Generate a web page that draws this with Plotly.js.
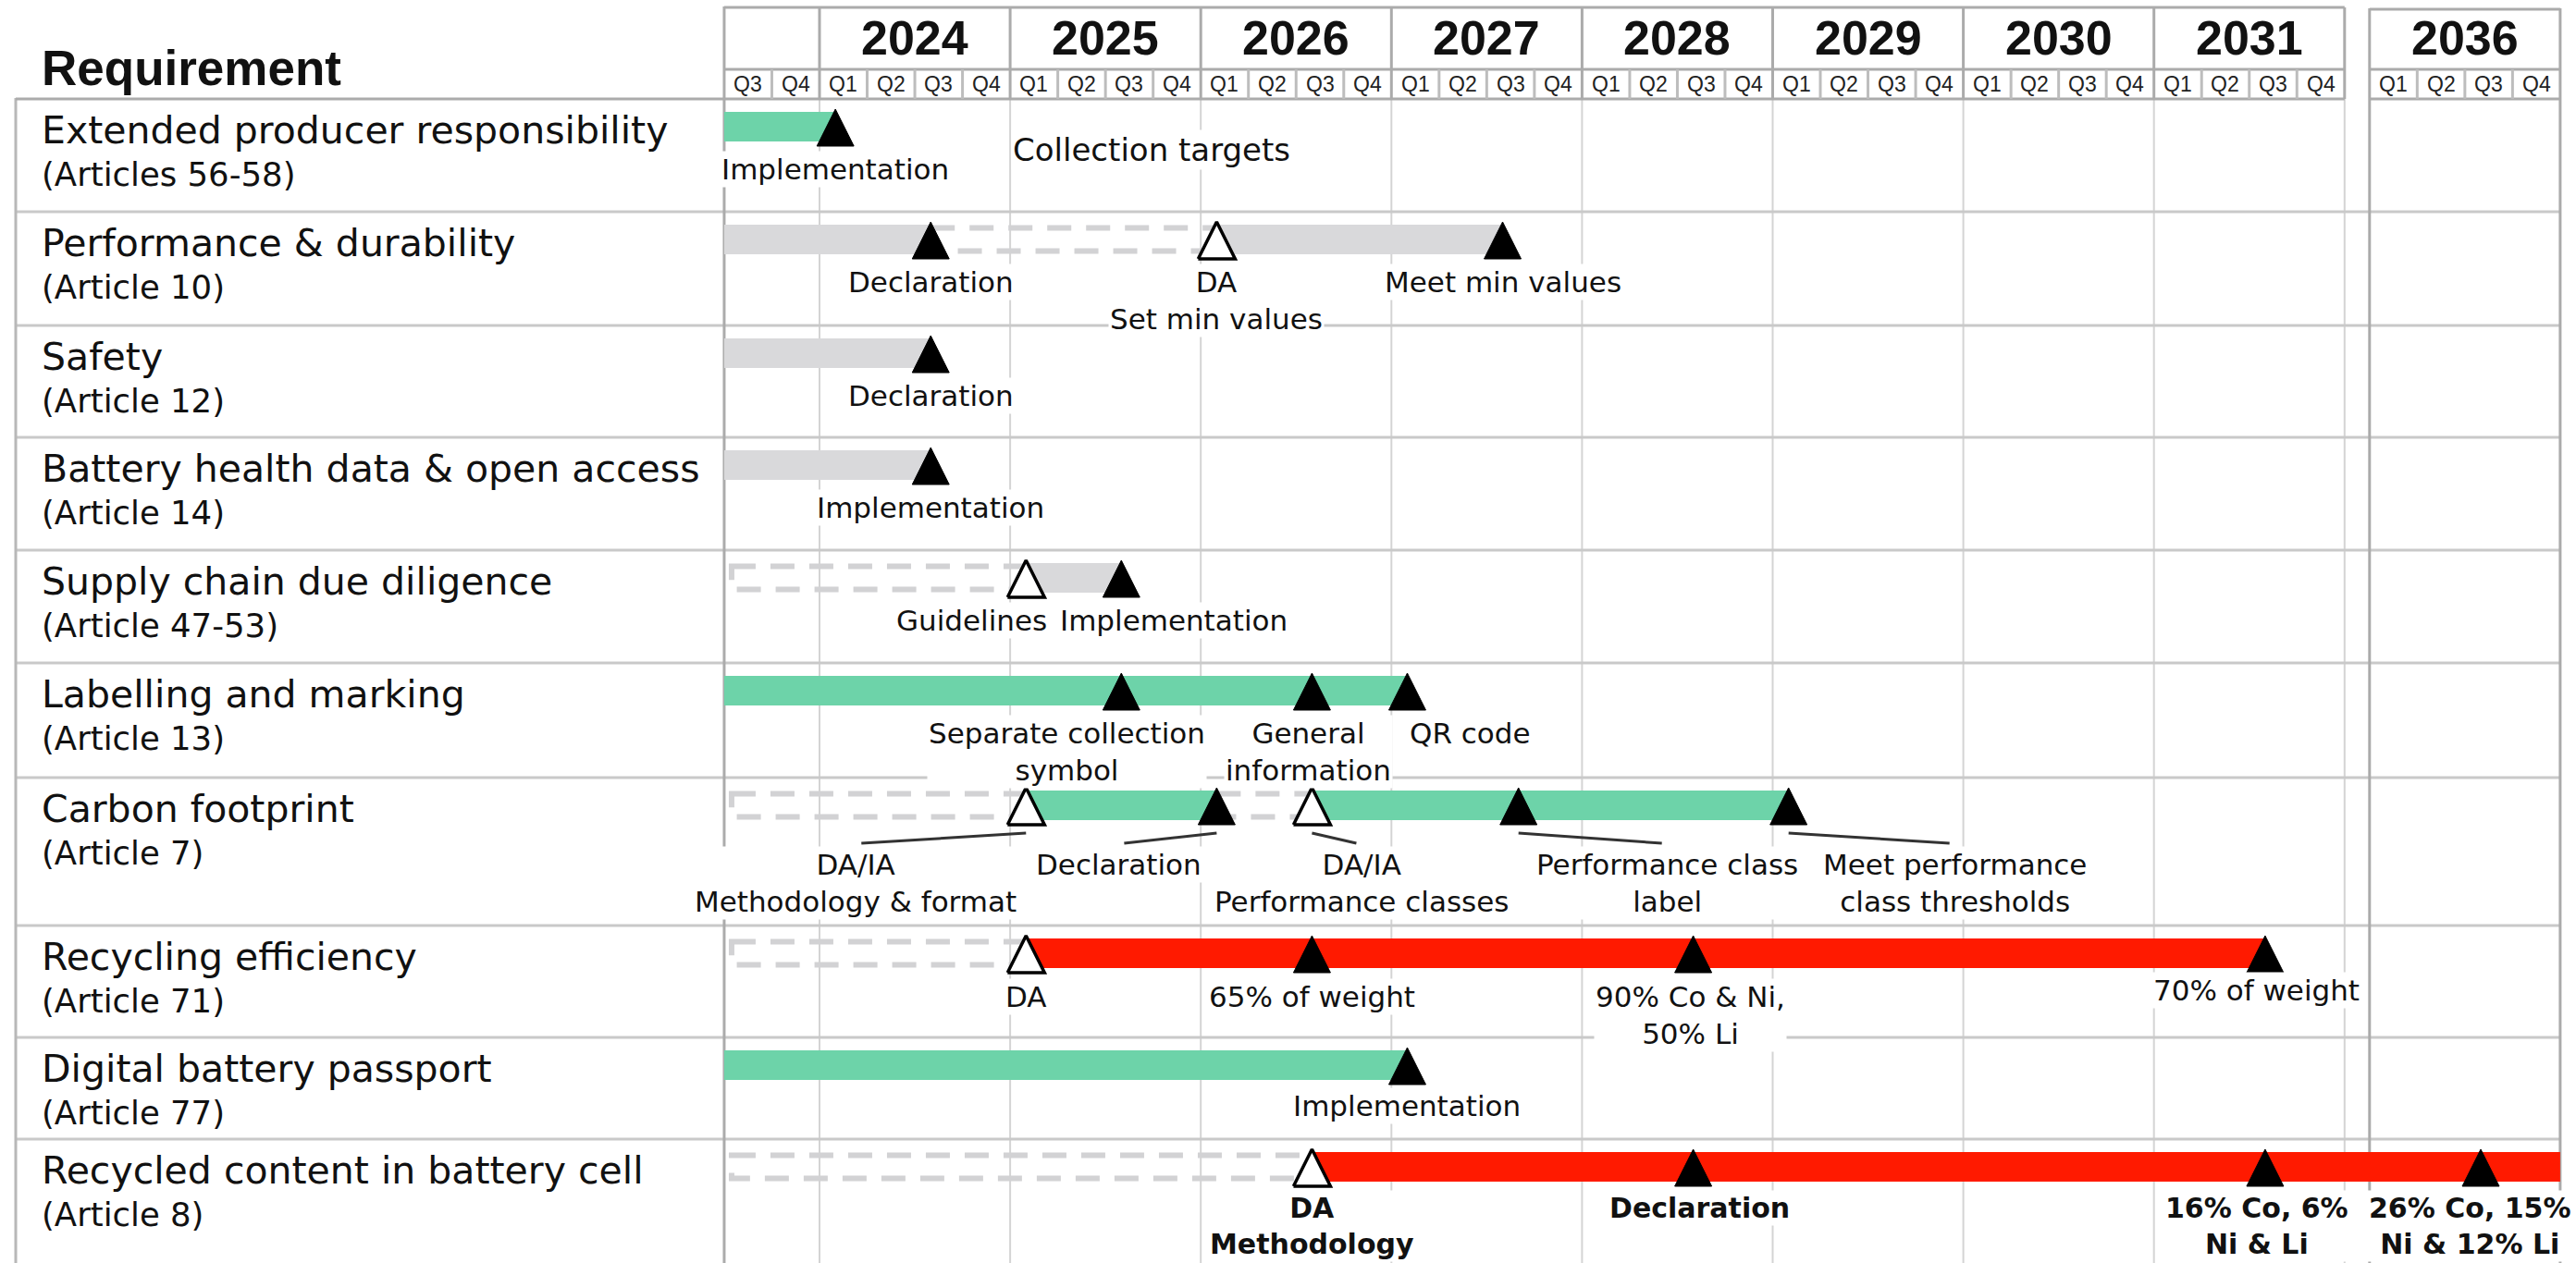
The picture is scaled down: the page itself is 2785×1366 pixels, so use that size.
<!DOCTYPE html>
<html>
<head>
<meta charset="utf-8">
<script src="https://cdn.plot.ly/plotly-3.0.1.min.js"></script>
<style>
html,body{margin:0;padding:0;background:#ffffff;}
#chart{width:2785px;height:1366px;}
</style>
</head>
<body>
<div id="chart"></div>
<script>
// ================= DATA =================
const requirements = [
  'Extended producer responsibility',
  'Performance & durability',
  'Safety',
  'Battery health data & open access',
  'Supply chain due diligence',
  'Labelling and marking',
  'Carbon footprint',
  'Recycling efficiency',
  'Digital battery passport',
  'Recycled content in battery cell'
];
const articles = [
  '(Articles 56-58)', '(Article 10)', '(Article 12)', '(Article 14)', '(Article 47-53)',
  '(Article 13)', '(Article 7)', '(Article 71)', '(Article 77)', '(Article 8)'
];
const headerTitle = 'Requirement';
const yearLabels = [2024, 2025, 2026, 2027, 2028, 2029, 2030, 2031, 2036];
const quarterLabels = ['Q1', 'Q2', 'Q3', 'Q4'];
const startPeriod = '2023-07';   // first visible quarter: 2023 Q3
const endPeriod = '2037-01';     // end of the 2036 block

// Timeline segments (row index, start, end, kind)
const segRow   = [0, 1, 1, 1, 2, 3, 4, 4, 5, 6, 6, 6, 6, 7, 7, 8, 9, 9];
const segStart = ['2023-07','2023-07','2024-08','2026-02','2023-07','2023-07','2023-07','2025-02','2023-07',
                  '2023-07','2025-02','2026-02','2026-08','2023-07','2025-02','2023-07','2023-07','2026-08'];
const segEnd   = ['2024-02','2024-08','2026-02','2027-08','2024-08','2024-08','2025-02','2025-08','2027-02',
                  '2025-02','2026-02','2026-08','2029-02','2025-02','2031-08','2027-02','2026-08','2037-01'];
const segKind  = ['green','grey','dashed','grey','grey','grey','dashed','grey','green',
                  'dashed','green','dashed','green','dashed','red','green','dashed','red'];

// Milestones (row index, date, hollow?, label, bold?)
const msRow    = [0, 1, 1, 1, 2, 3, 4, 4, 5, 5, 5, 6, 6, 6, 6, 6, 7, 7, 7, 7, 8, 9, 9, 9, 9];
const msDate   = ['2024-02','2024-08','2026-02','2027-08','2024-08','2024-08','2025-02','2025-08',
                  '2025-08','2026-08','2027-02','2025-02','2026-02','2026-08','2027-09','2029-02',
                  '2025-02','2026-08','2028-08','2031-08','2027-02','2026-08','2028-08','2031-08','2036-08'];
const msHollow = [false,false,true,false,false,false,true,false,
                  false,false,false,true,false,true,false,false,
                  true,false,false,false,false,true,false,false,false];
const msLabel  = ['Implementation','Declaration','DA<br>Set min values','Meet min values','Declaration',
                  'Implementation','Guidelines','Implementation',
                  'Separate collection<br>symbol','General<br>information','QR code',
                  'DA/IA<br>Methodology & format','Declaration','DA/IA<br>Performance classes',
                  'Performance class<br>label','Meet performance<br>class thresholds',
                  'DA','65% of weight','90% Co & Ni,<br>50% Li','70% of weight','Implementation',
                  'DA<br>Methodology','Declaration','16% Co, 6%<br>Ni & Li','26% Co, 15%<br>Ni & 12% Li'];
const msBold   = [false,false,false,false,false,false,false,false,false,false,false,false,false,false,
                  false,false,false,false,false,false,false,true,true,true,true];

// Free notes without a milestone marker
const noteRow  = [0];
const noteText = ['Collection targets'];

// ================= LAYOUT / STYLE =================
const W = 2785, H = 1366;
const PXY = 206.1;                 // pixels per year
const X0 = 2024 - 886 / PXY;       // axis value at left edge
const X1 = 2024 + (W - 886) / PXY; // axis value at right edge
const BREAK_FROM = 2032, BREAK_TO = 2036, GAP = 27 / PXY;
function axisX(t) { return t < BREAK_TO ? t : t - BREAK_TO + BREAK_FROM + GAP; }
function toYear(s) { const p = s.split('-').map(Number); return p[0] + (p[1] - 1) / 12; }
function X(s) { return axisX(toYear(s)); }

const rowTop = [107, 229, 352, 473, 595, 717, 841, 1001, 1122, 1232];
const labelBase = [86, 86, 86, 86, 86, 86, 104, 87, 84, 84];
const labelDx = [0,0,0,0,0,0,-59,57,-59,-4,68,-184,-106,54,161,180,0,0,-3,-9,0,0,7,-9,-12];
const labelDy = [0,0,0,0,0,0,0,0,0,0,0,0,0,0,0,0,0,0,0,-7,0,0,0,0,0];
const leaderRows = [6];
const noteX = [2025.74], noteBase = [66], noteSize = 34;

const colors = {green: '#6dd3a9', grey: '#d9d9db', red: '#ff1a00', dash: '#d2d2d4'};
const bodyFont = 'DejaVu Sans, Verdana, sans-serif';
const headFont = 'Liberation Sans, Arial, Helvetica, sans-serif';
const textColor = '#111111';
const dark = '#ababab', light = '#d4d4d4', rowLine = '#c9c9c9';

const BAR_OFF = 30, BAR_W = 32, TRI_TOP = 11, TRI_BOT = 51, TRI_HW = 20 / PXY;
const chartL = toYear(startPeriod);
const blockL = axisX(2036), blockR = X(endPeriod);

// ================= TRACES =================
const traces = [];
['green', 'grey', 'red'].forEach(kind => {
  const idx = segKind.map((k, i) => k === kind ? i : -1).filter(i => i >= 0);
  traces.push({
    type: 'bar', orientation: 'h',
    y: idx.map(i => rowTop[segRow[i]] + BAR_OFF),
    base: idx.map(i => X(segStart[i])),
    x: idx.map(i => X(segEnd[i]) - X(segStart[i])),
    width: BAR_W,
    marker: {color: colors[kind], line: {width: 0}},
    hoverinfo: 'skip', showlegend: false
  });
});

function triPath(filterHollow) {
  const xs = [], ys = [];
  msDate.forEach((d, i) => {
    if (msHollow[i] !== filterHollow) return;
    const x = X(d), t = rowTop[msRow[i]];
    xs.push(x - TRI_HW, x + TRI_HW, x, x - TRI_HW, null);
    ys.push(t + TRI_BOT, t + TRI_BOT, t + TRI_TOP, t + TRI_BOT, null);
  });
  return {xs, ys};
}
const filled = triPath(false), hollow = triPath(true);
traces.push({
  type: 'scatter', mode: 'lines', x: filled.xs, y: filled.ys, fill: 'toself',
  fillcolor: '#000000', line: {color: '#000000', width: 1},
  hoverinfo: 'skip', showlegend: false, connectgaps: false
});
traces.push({
  type: 'scatter', mode: 'lines', x: hollow.xs, y: hollow.ys, fill: 'toself',
  fillcolor: '#ffffff', line: {color: '#000000', width: 3.5},
  hoverinfo: 'skip', showlegend: false, connectgaps: false
});

// ================= SHAPES =================
const shapes = [];
function vline(x, y0, y1, color, width, layer) {
  shapes.push({type: 'line', xref: 'x', yref: 'y', x0: x, x1: x, y0: y0, y1: y1,
    line: {color: color, width: width}, layer: layer || 'below'});
}
function hline(y, x0, x1, color, width, layer) {
  shapes.push({type: 'line', xref: 'x', yref: 'y', x0: x0, x1: x1, y0: y, y1: y,
    line: {color: color, width: width}, layer: layer || 'below'});
}
const leftEdgeX = X0 + 17 / PXY;
const mainYears = yearLabels.filter(y => y < BREAK_TO);
const mainEnd = mainYears[mainYears.length - 1] + 1;

// body grid: year lines
mainYears.forEach(y => vline(y, 107, H, light, 2));
vline(mainEnd, 107, H, light, 2);
// row separators
rowTop.slice(1).forEach(t => hline(t, leftEdgeX, blockR, rowLine, 3));
// outer left border, chart left border, 2036 block borders
vline(leftEdgeX, 106, H, '#b8b8b8', 3);
vline(chartL, 7, H, dark, 3);
vline(blockL, 9, H, dark, 3);
vline(blockR, 9, H, dark, 3);
// header bottom line
hline(107, leftEdgeX, mainEnd, dark, 3);
hline(107, blockL, blockR, dark, 3);
// header: top line and year/quarter row separator
hline(8, chartL, mainEnd, dark, 3);
hline(10, blockL, blockR, dark, 3);
hline(75, chartL, mainEnd, dark, 3);
hline(75, blockL, blockR, dark, 3);
// header: year dividers
mainYears.forEach(y => vline(y, 8, 107, dark, 3));
vline(mainEnd, 8, 107, dark, 3);
// header: quarter dividers
for (let q = chartL + 0.25; q < mainEnd; q += 0.25) {
  if (Math.abs(q - Math.round(q)) > 1e-6) vline(q, 75, 107, '#bdbdbd', 3);
}
for (let q = 1; q < 4; q++) vline(blockL + q * 0.25, 75, 107, '#bdbdbd', 3);

// dashed (planned) outlines
segKind.forEach((k, i) => {
  if (k !== 'dashed') return;
  const c = rowTop[segRow[i]] + BAR_OFF;
  const x0 = X(segStart[i]) + (toYear(segStart[i]) === chartL ? 8 / PXY : 0);
  shapes.push({type: 'rect', xref: 'x', yref: 'y', x0: x0, x1: X(segEnd[i]),
    y0: c - 12.5, y1: c + 12.5, fillcolor: 'rgba(0,0,0,0)',
    line: {color: colors.dash, width: 6, dash: '26px,16px'}, layer: 'below'});
});

// leader lines
msDate.forEach((d, i) => {
  if (leaderRows.indexOf(msRow[i]) < 0) return;
  const mx = X(d), lx = mx + labelDx[i] / PXY, t = rowTop[msRow[i]];
  const sign = labelDx[i] >= 0 ? 1 : -1;
  shapes.push({type: 'line', xref: 'x', yref: 'y', x0: mx, x1: lx - sign * 6 / PXY,
    y0: t + 60, y1: t + 71, line: {color: '#333333', width: 3}, layer: 'above'});
});

// ================= ANNOTATIONS =================
const annotations = [];
// header title
annotations.push({xref: 'paper', yref: 'y', x: 43 / W, y: 42, xanchor: 'left', yanchor: 'top',
  text: '<b>' + headerTitle + '</b>', showarrow: false, borderpad: 1,
  font: {family: headFont, size: 53, color: textColor}});
// years
yearLabels.forEach(y => {
  annotations.push({xref: 'x', yref: 'y', x: axisX(y + 0.5), y: 10, xanchor: 'center', yanchor: 'top',
    text: '<b>' + y + '</b>', showarrow: false, borderpad: 1,
    font: {family: headFont, size: 52, color: textColor}});
});
// quarters
function qLabel(x, q) {
  annotations.push({xref: 'x', yref: 'y', x: x, y: 76, xanchor: 'center', yanchor: 'top',
    text: q, showarrow: false, borderpad: 1, font: {family: headFont, size: 23, color: '#222222'}});
}
qLabel(chartL + 0.125, quarterLabels[2]);
qLabel(chartL + 0.375, quarterLabels[3]);
yearLabels.forEach(y => quarterLabels.forEach((q, k) => qLabel(axisX(y) + 0.125 + k * 0.25, q)));
// requirement labels
requirements.forEach((r, i) => {
  annotations.push({xref: 'paper', yref: 'y', x: 43 / W, y: rowTop[i] + 8, xanchor: 'left', yanchor: 'top',
    text: r, showarrow: false, borderpad: 1, font: {family: bodyFont, size: 41, color: textColor}});
  annotations.push({xref: 'paper', yref: 'y', x: 43 / W, y: rowTop[i] + 59, xanchor: 'left', yanchor: 'top',
    text: articles[i], showarrow: false, borderpad: 1, font: {family: bodyFont, size: 35.5, color: textColor}});
});
// milestone labels
msLabel.forEach((txt, i) => {
  const fs = msBold[i] ? 30 : 31;
  annotations.push({xref: 'x', yref: 'y',
    x: X(msDate[i]) + labelDx[i] / PXY,
    y: rowTop[msRow[i]] + labelBase[msRow[i]] + labelDy[i] - 0.928 * fs - 1,
    xanchor: 'center', yanchor: 'top', align: 'center',
    text: msBold[i] ? '<b>' + txt.split('<br>').join('</b><br><b>') + '</b>' : txt,
    showarrow: false, bgcolor: '#ffffff', borderpad: 1,
    font: {family: bodyFont, size: fs, color: textColor}});
});
// notes
noteText.forEach((txt, i) => {
  annotations.push({xref: 'x', yref: 'y', x: noteX[i], y: rowTop[noteRow[i]] + noteBase[i] - 0.928 * noteSize - 1,
    xanchor: 'center', yanchor: 'top', text: txt, showarrow: false, bgcolor: '#ffffff', borderpad: 1,
    font: {family: bodyFont, size: noteSize, color: textColor}});
});

// ================= RENDER =================
const layout = {
  width: W, height: H, autosize: false,
  margin: {l: 0, r: 0, t: 0, b: 0, pad: 0},
  paper_bgcolor: '#ffffff', plot_bgcolor: '#ffffff',
  barmode: 'overlay', showlegend: false, hovermode: false,
  xaxis: {range: [X0, X1], visible: false, fixedrange: true},
  yaxis: {range: [H, 0], visible: false, fixedrange: true},
  shapes: shapes, annotations: annotations
};
Plotly.newPlot('chart', traces, layout, {staticPlot: true, displayModeBar: false});
</script>
</body>
</html>
